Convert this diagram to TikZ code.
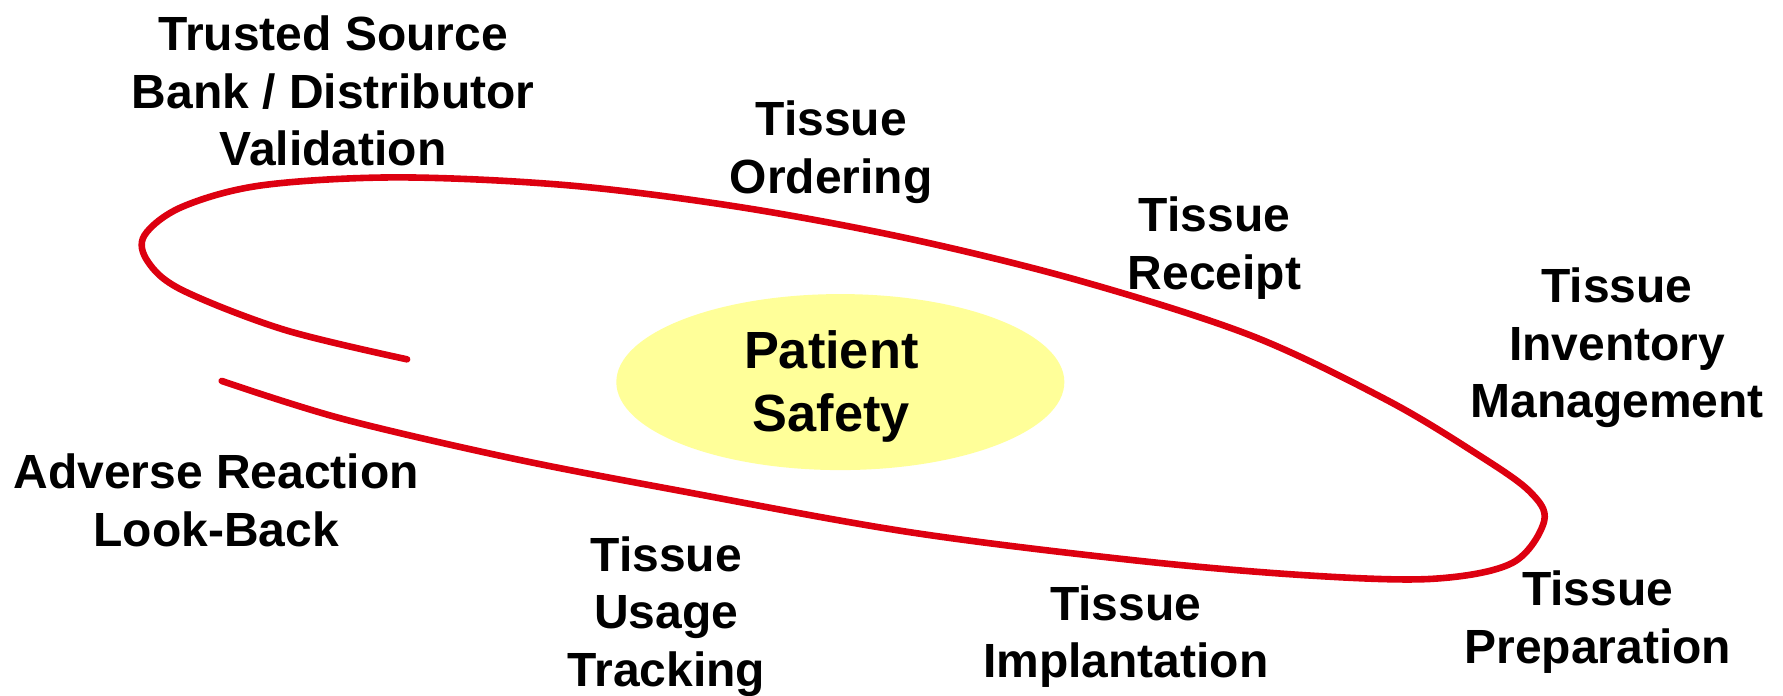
\documentclass[tikz,border=0pt]{standalone}
\usepackage{fontspec}
\setmainfont{Liberation Sans}
\usetikzlibrary{shapes.geometric}
\definecolor{loopRed}{HTML}{DD0010}
\definecolor{safetyFill}{HTML}{FFFF99}
\tikzset{
  loopfig/.style={
    x=0.5pt, y=-0.5pt,
    every node/.append style={font=\fontsize{21.1}{25.3}\selectfont\bfseries},
  },
  steplabel/.style={align=center, inner sep=0pt},
  safetynode/.style={
    ellipse, fill=safetyFill, inner sep=0pt,
    minimum width=197pt, minimum height=77.4pt,
  },
  safetytext/.style={align=center, inner sep=0pt, font=\fontsize{23}{27.9}\selectfont\bfseries},
  loopline/.style={draw=loopRed, line width=2.9pt, line cap=round, line join=round},
}

\begin{document}
\begin{tikzpicture}[loopfig]
  \useasboundingbox (0,0) rectangle (1568,612);
  % the loop round the centre
  \draw[loopline] plot[smooth, tension=0.55] coordinates {
    (195,335) (300,368) (450,403) (600,432) (800,468) (1000,493)
    (1150,506) (1260,509) (1330,495) (1358,458) (1345,432) (1300,400)
    (1220,352) (1100,295) (950,247) (800,210) (650,182) (500,163)
    (350,156) (230,163) (160,182) (127,207) (130,230) (160,255)
    (250,290) (358,316)};
  \node[safetynode] (Safety) at (739,336) {};
  \node[safetytext] (SafetyText) at (731,340) {Patient\\Safety};
  \node[steplabel] (Source) at (293,80) {Trusted Source\\Bank / Distributor\\Validation};
  \node[steplabel] (Ordering) at (731,134) {Tissue\\Ordering};
  \node[steplabel] (Receipt) at (1068,218) {Tissue\\Receipt};
  \node[steplabel] (Inventory) at (1422,306) {Tissue\\Inventory\\Management};
  \node[steplabel] (Preparation) at (1405,547) {Tissue\\Preparation};
  \node[steplabel] (Implantation) at (990,560) {Tissue\\Implantation};
  \node[steplabel] (Usage) at (586,542) {Tissue\\Usage\\Tracking};
  \node[steplabel] (LookBack) at (190,440) {Adverse Reaction\\Look-Back};
\end{tikzpicture}
\end{document}
